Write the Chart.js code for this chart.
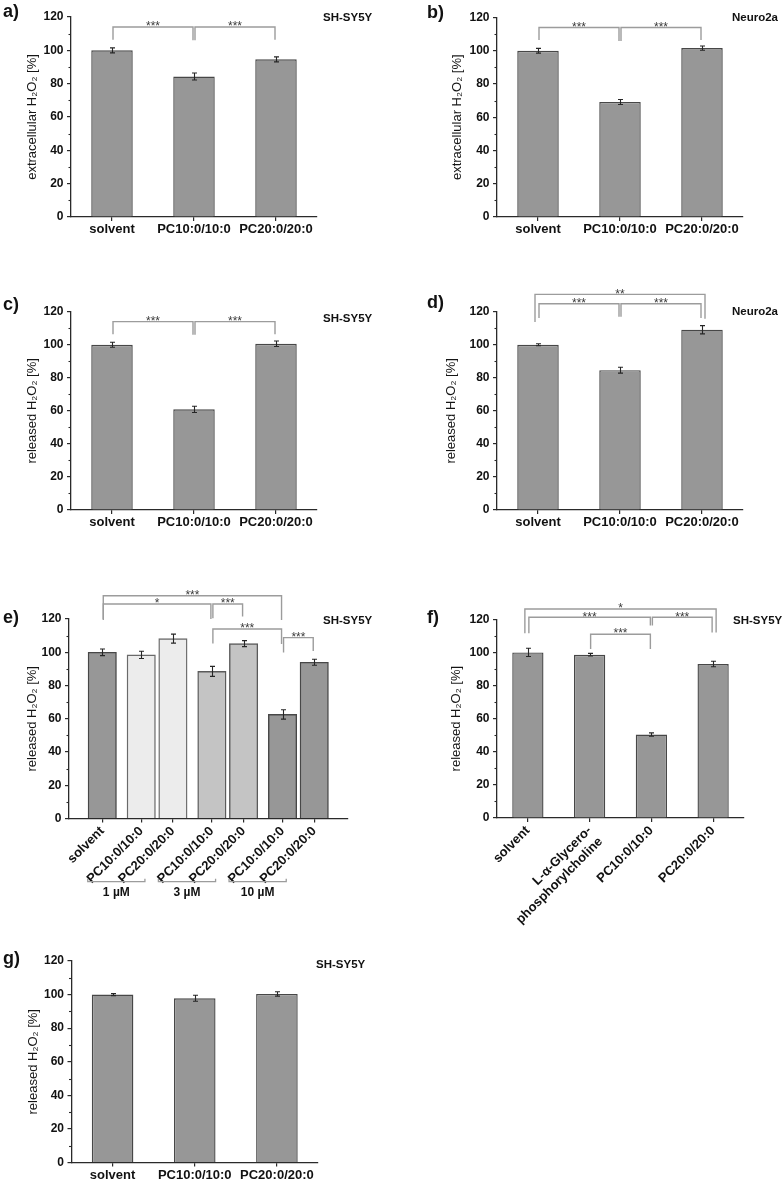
<!DOCTYPE html>
<html><head><meta charset="utf-8">
<script src="https://cdn.jsdelivr.net/npm/chart.js@4.4.1/dist/chart.umd.min.js"></script>
<style>
html,body{margin:0;padding:0;background:#fff;}
body{width:784px;height:1181px;position:relative;overflow:hidden;}
.pane{position:absolute;}
.lbl{position:absolute;font-weight:bold;line-height:1;white-space:nowrap;color:#111;}
</style></head><body>
<script>
// ---------------- data ----------------
const yTicks = [0, 20, 40, 60, 80, 100, 120];

const cats3 = ['solvent', 'PC10:0/10:0', 'PC20:0/20:0'];

const valsA = [100, 84.3, 94.6];
const errA  = [1.5, 2.1, 1.5];
const sigA  = [
  {from:0, to:1, level:114, legs:[106.4, 106], text:'***'},
  {from:1, to:2, level:114, legs:[106, 106.4], text:'***'}
];

const valsB = [100, 69.2, 101.6];
const errB  = [1.4, 1.5, 1.3];
const sigB  = [
  {from:0, to:1, level:114, legs:[106.4, 105.8], text:'***'},
  {from:1, to:2, level:114, legs:[105.8, 106.4], text:'***'}
];

const valsC = [100, 60.9, 100.6];
const errC  = [1.5, 1.9, 1.7];
const sigC  = [
  {from:0, to:1, level:114, legs:[106.3, 106], text:'***'},
  {from:1, to:2, level:114, legs:[106, 106.3], text:'***'}
];

const valsD = [100, 84.6, 109.1];
const errD  = [0.6, 1.8, 2.5];
const sigD  = [
  {from:0, to:2, level:130.5, legs:[113.8, 115.8], text:'**', outer:true},
  {from:0, to:1, level:124.8, legs:[116.2, 117], text:'***'},
  {from:1, to:2, level:124.8, legs:[117, 116.2], text:'***'}
];

const catsE   = ['solvent', 'PC10:0/10:0', 'PC20:0/20:0', 'PC10:0/10:0', 'PC20:0/20:0', 'PC10:0/10:0', 'PC20:0/20:0'];
const groupsE = ['', '1 µM', '1 µM', '3 µM', '3 µM', '10 µM', '10 µM'];
const valsE   = [100, 98.4, 108.2, 88.5, 105.2, 62.6, 94];
const errE    = [2, 2.2, 2.7, 3, 1.8, 2.8, 1.8];
const sigE    = [
  {from:0, to:5, level:134, legs:[119.4, 119.4], text:'***'},
  {from:0, to:3, level:129, legs:[120, 120], text:'*'},
  {from:3, to:4, level:129, legs:[120.5, 121.5], text:'***'},
  {from:3, to:5, level:114, legs:[105.3, 105], text:'***'},
  {from:5, to:6, level:108.8, legs:[99.9, 100.7], text:'***'}
];

const catsF = ['solvent', ['L-α-Glycero-', 'phosphorylcholine'], 'PC10:0/10:0', 'PC20:0/20:0'];
const valsF = [100, 98.6, 50.4, 93];
const errF  = [2.5, 0.8, 1, 1.7];
const sigF  = [
  {from:0, to:3, level:126.2, legs:[111.6, 112], text:'*', outer:true},
  {from:0, to:2, level:121.2, legs:[111.6, 116.2], text:'***'},
  {from:2, to:3, level:121.2, legs:[116.2, 112], text:'***'},
  {from:1, to:2, level:111, legs:[102, 102], text:'***'}
];

const valsG = [100, 97.8, 100.4];
const errG  = [0.6, 1.8, 1.3];

const titleExtra = 'extracellular H₂O₂ [%]';
const titleRel   = 'released H₂O₂ [%]';

// ---------------- styles / layout ----------------
const FONT = "'Liberation Sans', Arial, Helvetica, sans-serif";
const AXIS = '#2a2a2a';
const BAR = '#979797';
const BAR_EDGE = '#474747';
const groupFill = {'': '#979797', '1 µM': '#ececec', '3 µM': '#c4c4c4', '10 µM': '#979797'};
const groupEdge = {'': '#474747', '1 µM': '#6a6a6a', '3 µM': '#5a5a5a', '10 µM': '#474747'};

function slotsFrom(groups, gap) {
  const out = [];
  let pos = 0;
  groups.forEach((g, i) => {
    if (i > 0) pos += (g === groups[i - 1]) ? 1 : gap;
    out.push(pos);
  });
  return out;
}

const panels = [
  {box:[0,0,392,262], area:[71,17,317,217], titleX:32.7, cats:cats3, values:valsA, errors:errA, sig:sigA, yTitle:titleExtra,
   letter:['a)', 3, 17], cell:['SH-SY5Y', 323, 21.4]},
  {box:[392,0,392,262], area:[497,17.5,743,217], titleX:457, cats:cats3, values:valsB, errors:errB, sig:sigB, yTitle:titleExtra,
   letter:['b)', 427, 18], cell:['Neuro2a', 732, 21.4]},
  {box:[0,262,392,283], area:[71,311.7,317,510], titleX:32.7, cats:cats3, values:valsC, errors:errC, sig:sigC, yTitle:titleRel,
   letter:['c)', 3, 310.5], cell:['SH-SY5Y', 323, 323]},
  {box:[392,262,392,283], area:[497,311.7,743,510], titleX:451.5, cats:cats3, values:valsD, errors:errD, sig:sigD, yTitle:titleRel,
   letter:['d)', 427, 308], cell:['Neuro2a', 732, 315.8]},
  {box:[0,570,392,345], area:[69,619,347.5,818.5], titleX:32.5, cats:catsE, values:valsE, errors:errE, sig:sigE, yTitle:titleRel,
   slots:slotsFrom(groupsE, 1.23), groups:groupsE, rot:45,
   letter:['e)', 3, 623], cell:['SH-SY5Y', 323, 624.4]},
  {box:[392,570,392,380], area:[497,619.3,744,818], titleX:456.5, cats:catsF, values:valsF, errors:errF, sig:sigF, yTitle:titleRel,
   rot:45, letter:['f)', 427, 623], cell:['SH-SY5Y', 733, 624.4]},
  {box:[0,935,392,246], area:[71.5,961,318,1162.5], titleX:33, cats:cats3, values:valsG, errors:errG, sig:[], yTitle:titleRel,
   letter:['g)', 3, 964.5], cell:['SH-SY5Y', 316, 969]}
];

const decor = {
  id: 'decor',
  afterDraw(chart) {
    const p = chart.canvas.$panel;
    if (!p) return;
    const ctx = chart.ctx;
    const ys = chart.scales.y;
    const meta = chart.getDatasetMeta(0);
    const bx = i => meta.data[i].x;
    ctx.save();
    // minor y ticks
    ctx.strokeStyle = AXIS; ctx.lineWidth = 1.1;
    const t = ys.ticks;
    for (let i = 0; i < t.length - 1; i++) {
      const v = (t[i].value + t[i + 1].value) / 2;
      const py = Math.round(ys.getPixelForValue(v)) + 0.5;
      ctx.beginPath(); ctx.moveTo(ys.right - 2.5, py); ctx.lineTo(ys.right, py); ctx.stroke();
    }
    // error bars
    ctx.strokeStyle = '#262626'; ctx.lineWidth = 1.1;
    p.values.forEach((v, i) => {
      const x = Math.round(bx(i)) + 0.5;
      const e = p.errors[i];
      const y1 = ys.getPixelForValue(v + e), y2 = ys.getPixelForValue(v - e);
      ctx.beginPath();
      ctx.moveTo(x, y1); ctx.lineTo(x, y2);
      ctx.moveTo(x - 2.5, y1); ctx.lineTo(x + 2.5, y1);
      ctx.moveTo(x - 2.5, y2); ctx.lineTo(x + 2.5, y2);
      ctx.stroke();
    });
    // significance brackets
    (p.sig || []).forEach(s => {
      const inset = s.outer ? -3 : 1;
      const xa = bx(s.from) + inset, xb = bx(s.to) - inset;
      const y = ys.getPixelForValue(s.level);
      const ya = ys.getPixelForValue(s.legs[0]), yb = ys.getPixelForValue(s.legs[1]);
      ctx.strokeStyle = '#9c9c9c'; ctx.lineWidth = 1.4;
      ctx.beginPath(); ctx.moveTo(xa, ya); ctx.lineTo(xa, y); ctx.lineTo(xb, y); ctx.lineTo(xb, yb); ctx.stroke();
      ctx.fillStyle = '#3a3a3a'; ctx.font = '12px ' + FONT; ctx.textAlign = 'center'; ctx.textBaseline = 'alphabetic';
      ctx.fillText(s.text, (xa + xb) / 2, y + 3.2);
    });
    // concentration group brackets
    if (p.groups) {
      const names = [...new Set(p.groups.filter(g => g))];
      const yb = chart.chartArea.bottom + 63.2;
      names.forEach(g => {
        const first = p.groups.indexOf(g), last = p.groups.lastIndexOf(g);
        const xl = bx(first) - 53.5, xr = bx(last) - 28;
        ctx.strokeStyle = '#9c9c9c'; ctx.lineWidth = 1.3;
        ctx.beginPath(); ctx.moveTo(xl, yb - 3); ctx.lineTo(xl, yb); ctx.lineTo(xr, yb); ctx.lineTo(xr, yb - 3); ctx.stroke();
        ctx.fillStyle = '#111'; ctx.font = 'bold 12px ' + FONT; ctx.textAlign = 'center'; ctx.textBaseline = 'alphabetic';
        ctx.fillText(g, (xl + xr) / 2, chart.chartArea.bottom + 77);
      });
    }
    ctx.restore();
  }
};

function build(p) {
  const [bx, by, bw, bh] = p.box;
  const [al, at, ar, ab] = p.area;
  const wrap = document.createElement('div');
  wrap.className = 'pane';
  Object.assign(wrap.style, {left: bx + 'px', top: by + 'px', width: bw + 'px', height: bh + 'px'});
  const cv = document.createElement('canvas');
  cv.width = bw; cv.height = bh; cv.style.width = bw + 'px'; cv.style.height = bh + 'px';
  cv.$panel = p;
  wrap.appendChild(cv);
  document.body.appendChild(wrap);

  const linearX = !!p.slots;
  const rot = p.rot || 0;
  const tickFont = {family: FONT, size: 13, weight: 'bold'};
  const grid = {display: true, offset: false, drawOnChartArea: false, drawTicks: true, tickLength: 4, color: AXIS, lineWidth: 1.2};
  const border = {display: true, color: AXIS, width: 1.3};

  const xScale = linearX ? {
    type: 'linear', min: p.slots[0] - 1.05, max: p.slots[p.slots.length - 1] + 1.05, bounds: 'data', offset: false,
    afterBuildTicks: s => { s.ticks = p.slots.map(v => ({value: v})); },
    ticks: {autoSkip: false, font: tickFont, color: '#111', padding: 1, minRotation: rot, maxRotation: rot,
            callback: (v, i) => p.cats[i]}
  } : {
    type: 'category', offset: true,
    ticks: {autoSkip: false, font: tickFont, color: '#111', padding: 1, minRotation: rot, maxRotation: rot}
  };
  xScale.grid = grid;
  xScale.border = border;
  xScale.afterFit = s => { s.height = by + bh - ab; };

  const lh = 13 * 1.2;
  const cfg = {
    type: 'bar',
    data: {
      labels: linearX ? undefined : p.cats,
      datasets: [{
        data: linearX ? p.values.map((v, i) => ({x: p.slots[i], y: v})) : p.values,
        backgroundColor: p.groups ? p.groups.map(g => groupFill[g]) : BAR,
        borderColor: p.groups ? p.groups.map(g => groupEdge[g]) : BAR_EDGE,
        borderWidth: 1.4,
        barPercentage: 0.506,
        categoryPercentage: 1,
        barThickness: linearX ? 28.4 : undefined
      }]
    },
    options: {
      responsive: false, animation: false, devicePixelRatio: 1,
      layout: {padding: {left: 0, top: at - by, right: bx + bw - ar, bottom: 0}},
      plugins: {legend: {display: false}, tooltip: {enabled: false}},
      scales: {
        x: xScale,
        y: {
          type: 'linear', min: yTicks[0], max: yTicks[yTicks.length - 1],
          afterBuildTicks: s => { s.ticks = yTicks.map(v => ({value: v})); },
          ticks: {font: {family: FONT, size: 12, weight: 'bold'}, color: '#111', padding: 3.5},
          grid: grid, border: border,
          title: {display: true, text: p.yTitle, font: {family: FONT, size: 13}, color: '#151515',
                  padding: {top: p.titleX - bx - lh / 2, bottom: 0}},
          afterFit: s => { s.width = al - bx; }
        }
      }
    },
    plugins: [decor]
  };
  new Chart(cv, cfg);
}

function addLabel(text, x, base, size) {
  const d = document.createElement('div');
  d.className = 'lbl';
  d.textContent = text;
  d.style.left = x + 'px';
  d.style.top = (base - 0.8465 * size) + 'px';
  d.style.fontSize = size + 'px';
  d.style.fontFamily = FONT;
  document.body.appendChild(d);
}

panels.forEach(build);
panels.forEach(p => {
  addLabel(p.letter[0], p.letter[1], p.letter[2], 18);
  addLabel(p.cell[0], p.cell[1], p.cell[2], 11.5);
});
</script>
</body></html>
